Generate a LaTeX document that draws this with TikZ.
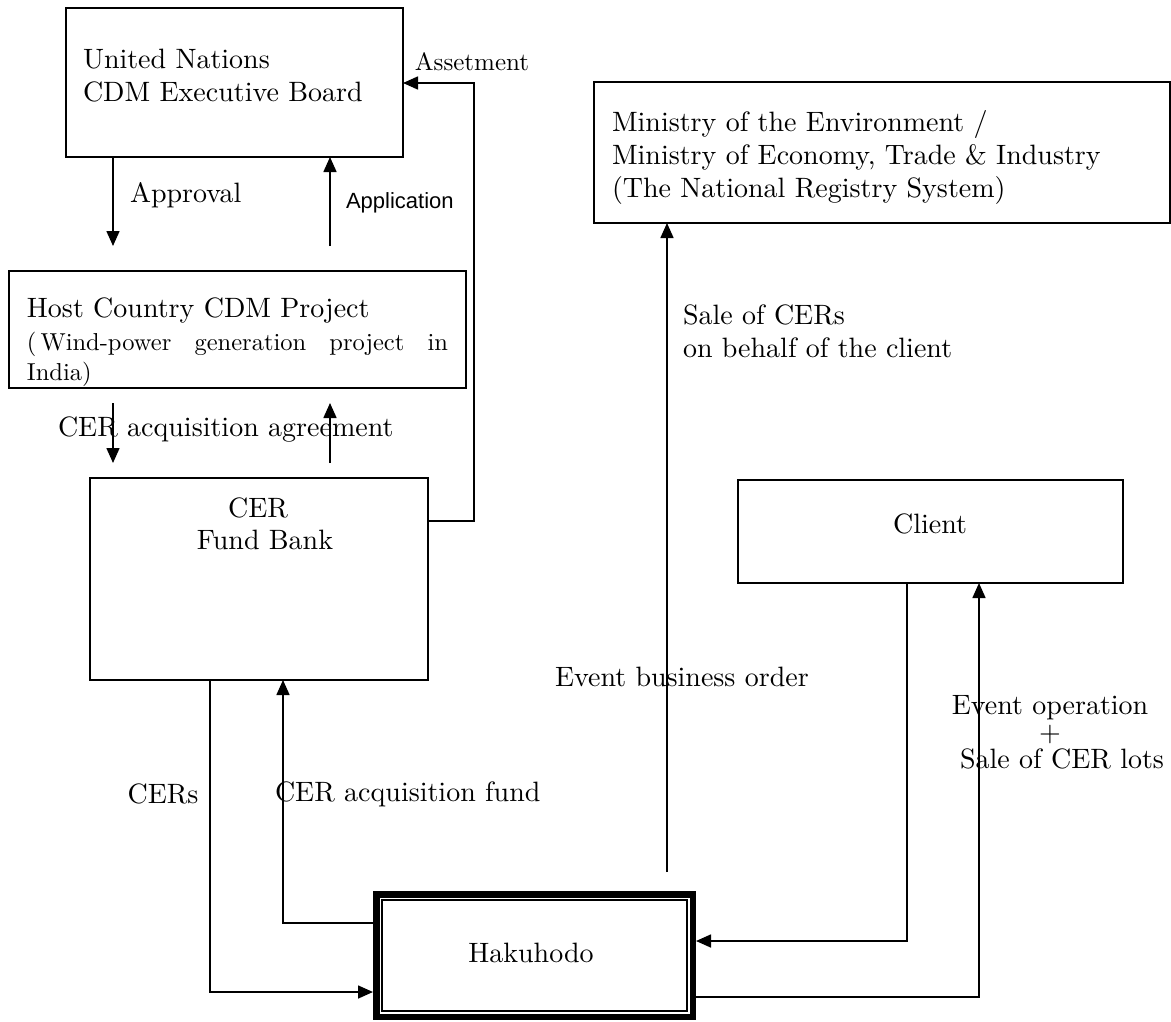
\documentclass[tikz,border=0pt]{standalone}
\usepackage{fontspec}
\setmainfont{lmroman10-regular}[Extension=.otf]
\newfontfamily\appfont{Liberation Sans}
\usetikzlibrary{arrows.meta}
\newcommand\fsA{\fontsize{28}{33}\selectfont}
\newcommand\fsB{\fontsize{24.5}{30}\selectfont}
\newcommand\fsC{\fontsize{25}{30}\selectfont}
\newcommand\fsOp{\fontsize{28}{27}\selectfont}
\begin{document}
\begin{tikzpicture}[x=1pt,y=-1pt,
  every node/.style={inner sep=0pt,outer sep=0pt},
  box/.style={draw,line width=1.6pt},
  lab/.style={font=\fsA},
  arr/.style={line width=1.6pt,-{Triangle[length=15pt,width=13pt]}}]
\useasboundingbox (0,0) rectangle (1171,1021);
\fill[white] (0,0) rectangle (1171,1021);

% boxes
\node[box,minimum width=337pt,minimum height=149pt] (un) at (234.5,82.5) {};
\node[box,minimum width=576pt,minimum height=141pt] (min) at (882,152.5) {};
\node[box,minimum width=457pt,minimum height=117pt] (host) at (237.5,329.5) {};
\node[box,minimum width=338pt,minimum height=202pt] (fund) at (259,579) {};
\node[box,minimum width=385pt,minimum height=103pt] (client) at (930.5,531.5) {};
\node[minimum width=323pt,minimum height=129pt] (hak) at (534.5,955.5) {};
\draw[line width=6.5pt] ([shift={(3.25,3.25)}]hak.north west) rectangle ([shift={(-3.25,-3.25)}]hak.south east);
\draw[line width=1.4pt] ([shift={(9,9)}]hak.north west) rectangle ([shift={(-9,-9)}]hak.south east);

% box texts
\node[lab,anchor=west,align=left] (untxt) at (83,76) {United Nations\\CDM Executive Board};
\node[lab,anchor=west,align=left] (mintxt) at (612,157) {Ministry of the Environment /\\Ministry of Economy, Trade \& Industry\\(The National Registry System)};
\node[lab,anchor=west] (hosttxt1) at (27,310) {Host Country CDM Project};
\node[font=\fsB,anchor=west,align=left] (hosttxt2) at (27,359) {\makebox[421pt][s]{(\,Wind-power generation project in}\\India)};
\node[lab] (fundtxt1) at (258,508) {CER};
\node[lab] (fundtxt2) at (265,540) {Fund Bank};
\node[lab] (clienttxt) at (930,524) {Client};
\node[lab] (haktxt) at (531,953) {Hakuhodo};

% connectors
\coordinate (apT) at (113,246);
\draw[arr] (un.south -| apT) -- (apT);
\coordinate (appB) at (330,246);
\draw[arr] (appB) -- (un.south -| appB);
\coordinate (agT) at (113,403);
\coordinate (agB) at (113,463);
\draw[arr] (agT) -- (agB);
\coordinate (ag2B) at (330,463);
\coordinate (ag2T) at (330,403);
\draw[arr] (ag2B) -- (ag2T);
\coordinate (asY) at (474,521);
\coordinate (asTop) at (474,83);
\draw[arr] (fund.east |- asY) -- (asY) -- (asTop) -- (un.east |- asTop);
\coordinate (cerX) at (210,992);
\draw[arr] (fund.south -| cerX) -- (cerX) -- (hak.west |- cerX);
\coordinate (cfX) at (283,923);
\draw[arr] (hak.west |- cfX) -- (cfX) -- (fund.south -| cfX);
\coordinate (ebB) at (667,872);
\draw[arr] (ebB) -- (min.south -| ebB);
\coordinate (chX) at (907,941);
\draw[arr] (client.south -| chX) -- (chX) -- (hak.east |- chX);
\coordinate (hcX) at (979,997);
\draw[arr] (hak.east |- hcX) -- (hcX) -- (client.south -| hcX);

% labels
\node[font=\fsC] (asmtlbl) at (472,62) {Assetment};
\node[lab,anchor=west] (aplbl) at (130,195) {Approval};
\node[font=\appfont\fontsize{22}{26}\selectfont,anchor=west] (applbl) at (346,203) {Application};
\node[lab,anchor=west] (aglbl) at (58,430) {CER acquisition agreement};
\node[lab,anchor=west,align=left] (salelbl) at (683,331) {Sale of CERs\\on behalf of the client};
\node[lab,anchor=west] (eblbl) at (555,677) {Event business order};
\node[lab] (cerslbl) at (163,794) {CERs};
\node[lab,anchor=west] (cflbl) at (275,794) {CER acquisition fund};
\node[font=\fsOp,align=center] (eolbl) at (1050,732) {Event operation\\+\\\hspace*{24pt}Sale of CER lots};
\end{tikzpicture}
\end{document}
